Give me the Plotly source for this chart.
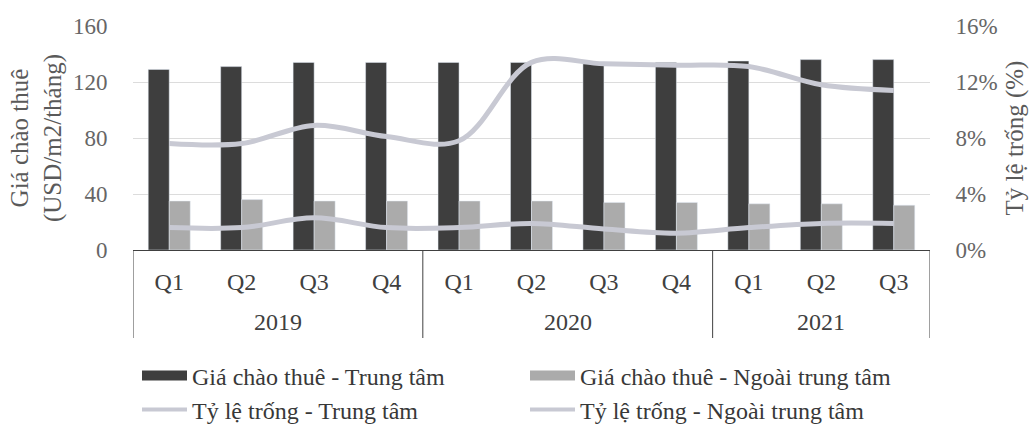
import plotly.graph_objects as go

# Quarterly office market data, 2019 - Q3 2021
years = ["2019"] * 4 + ["2020"] * 4 + ["2021"] * 3
quarters = ["Q1", "Q2", "Q3", "Q4", "Q1", "Q2", "Q3", "Q4", "Q1", "Q2", "Q3"]

# Asking rent (USD/m2/month)
gia_trung_tam = [129, 131, 134, 134, 134, 134, 133, 134, 135, 136, 136]
gia_ngoai_trung_tam = [35, 36, 35, 35, 35, 35, 34, 34, 33, 33, 32]

# Vacancy rate (%)
ty_le_trung_tam = [7.6, 7.6, 8.9, 8.1, 7.8, 13.4, 13.3, 13.2, 13.1, 11.8, 11.4]
ty_le_ngoai_trung_tam = [1.6, 1.6, 2.3, 1.6, 1.6, 1.9, 1.5, 1.2, 1.6, 1.9, 1.9]

names = [
    "Giá chào thuê - Trung tâm",
    "Giá chào thuê - Ngoài trung tâm",
    "Tỷ lệ trống - Trung tâm",
    "Tỷ lệ trống - Ngoài trung tâm",
]

FONT = "Liberation Serif"
DARK = "#3e3e3e"
LIGHT = "#ababab"
LINE = "#c8c9d3"
TEXT = "#404040"

# one slot per quarter on a numeric axis; quarter names become tick text
pos = list(range(len(quarters)))

# year groups: centre of each group and the boundaries between groups
groups = []
for i, yr in enumerate(years):
    if not groups or groups[-1][0] != yr:
        groups.append([yr, i, i])
    else:
        groups[-1][2] = i
boundaries = [g[1] - 0.5 for g in groups] + [groups[-1][2] + 0.5]

# pixel geometry of the plot area (height 224 px) used to place the year row
PLOT_H = 224.0
YEAR_ROW = -72 / PLOT_H
DIVIDER_END = -88 / PLOT_H

fig = go.Figure()

fig.add_trace(go.Bar(x=pos, y=gia_trung_tam, name=names[0], marker_color=DARK,
                     legendgroup="a", showlegend=False))
fig.add_trace(go.Bar(x=pos, y=gia_ngoai_trung_tam, name=names[1], marker_color=LIGHT,
                     legendgroup="b", showlegend=False))
fig.add_trace(go.Scatter(x=pos, y=ty_le_trung_tam, name=names[2], yaxis="y2",
                         mode="lines", line=dict(color=LINE, width=5, shape="spline"),
                         legendgroup="c", showlegend=False))
fig.add_trace(go.Scatter(x=pos, y=ty_le_ngoai_trung_tam, name=names[3], yaxis="y2",
                         mode="lines", line=dict(color=LINE, width=5, shape="spline"),
                         legendgroup="d", showlegend=False))

# Legend entries: wide swatches for the bars, thin strokes for the lines
swatches = [(names[0], DARK, 10, "a", "legend"),
            (names[1], LIGHT, 10, "b", "legend"),
            (names[2], LINE, 4, "c", "legend2"),
            (names[3], LINE, 4, "d", "legend2")]
for nm, col, w, grp, lg in swatches:
    fig.add_trace(go.Scatter(x=[pos[0]], y=[None], name=nm,
                             mode="lines", line=dict(color=col, width=w),
                             legendgroup=grp, legend=lg, hoverinfo="skip"))

# year labels under the quarter row, and vertical separators between years
for yr, a, b in groups:
    fig.add_annotation(x=(a + b) / 2, y=YEAR_ROW, xref="x", yref="paper",
                       text=yr, showarrow=False, yanchor="middle",
                       font=dict(family=FONT, size=24, color=TEXT))
for bx in boundaries:
    fig.add_shape(type="line", xref="x", yref="paper", x0=bx, x1=bx,
                  y0=0, y1=DIVIDER_END, line=dict(color=TEXT, width=1))

legend_common = dict(orientation="h", xref="container", yref="container",
                     xanchor="left", yanchor="middle", itemwidth=45,
                     entrywidth=328, font=dict(family=FONT, size=24, color="#383838"),
                     bgcolor="rgba(0,0,0,0)", traceorder="normal")

fig.update_layout(
    width=1036, height=430,
    margin=dict(l=133, r=106, t=26, b=180, autoexpand=False),
    paper_bgcolor="white", plot_bgcolor="white",
    font=dict(family=FONT, size=24, color=TEXT),
    barmode="group", bargap=0.42, bargroupgap=0,
    showlegend=True,
    legend=dict(x=137 / 1036, y=1 - 376 / 430, **legend_common),
    legend2=dict(x=137 / 1036, y=1 - 410 / 430, **legend_common),
    xaxis=dict(
        range=[boundaries[0], boundaries[-1]], tickmode="array",
        tickvals=pos, ticktext=quarters,
        showline=True, linecolor=TEXT, linewidth=1,
        ticks="outside", ticklen=10, tickcolor="rgba(0,0,0,0)",
        tickfont=dict(family=FONT, size=24, color=TEXT),
        showgrid=False, zeroline=False, automargin=False,
    ),
    yaxis=dict(
        range=[0, 160], dtick=40, showgrid=True, gridcolor="#dcdcdc", gridwidth=1,
        zeroline=False, showline=False, ticks="outside", ticklen=20,
        tickcolor="rgba(0,0,0,0)", automargin=False,
        tickfont=dict(family=FONT, size=23, color="#666666"),
        title=dict(text="Giá chào thuê<br>(USD/m2/tháng)", standoff=4,
                   font=dict(family=FONT, size=25, color="#5a5a5a")),
    ),
    yaxis2=dict(
        overlaying="y", side="right", range=[0, 16], dtick=4, ticksuffix="%",
        showgrid=False, zeroline=False, showline=False, ticks="outside",
        ticklen=20, tickcolor="rgba(0,0,0,0)", automargin=False,
        tickfont=dict(family=FONT, size=23, color="#666666"),
        title=dict(text="Tỷ lệ trống (%)", standoff=8,
                   font=dict(family=FONT, size=25, color="#5a5a5a")),
    ),
)

fig.write_html("out.html")
